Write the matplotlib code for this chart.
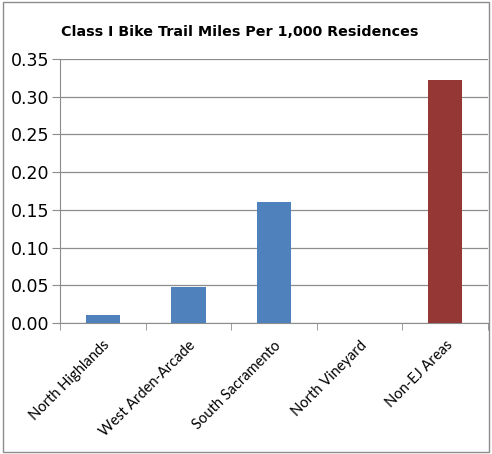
import matplotlib
matplotlib.use("Agg")
import matplotlib.pyplot as plt
from matplotlib.patches import Rectangle

categories = ["North Highlands", "West Arden-Arcade", "South Sacramento",
              "North Vineyard", "Non-EJ Areas"]
values = [0.010, 0.048, 0.161, 0.0, 0.322]
colors = ["#4f81bd", "#4f81bd", "#4f81bd", "#4f81bd", "#953735"]
yticks = [0.00, 0.05, 0.10, 0.15, 0.20, 0.25, 0.30, 0.35]

plt.rcParams["font.family"] = ["DejaVu Sans"]

W, H = 492, 454
fig = plt.figure(figsize=(W / 100, H / 100), dpi=100)
ax = fig.add_axes([60 / W, 1 - 323 / H, (488 - 60) / W, (323 - 59) / H])

x = list(range(len(categories)))
ax.bar(x, values, width=0.4, color=colors, zorder=3)
ax.set_xlim(-0.5, len(categories) - 0.5)
ax.set_ylim(0, 0.35)
ax.set_yticks(yticks)
ax.set_yticklabels([f"{v:.2f}" for v in yticks], fontsize=12.5)
ax.yaxis.grid(True, color="#8c8c8c", lw=0.9, zorder=0)
ax.tick_params(axis="y", length=6, color="#8c8c8c", pad=2)

# category labels, ticks at category boundaries
ax.set_xticks(x)
ax.set_xticklabels(categories, rotation=45, ha="right", rotation_mode="anchor",
                   fontsize=10.5, family="Lato")
ax.tick_params(axis="x", length=0, pad=11)
ax.set_xticks([i - 0.5 for i in range(len(categories) + 1)], minor=True)
ax.tick_params(axis="x", which="minor", length=5, color="#8c8c8c")

for s in ["top", "right"]:
    ax.spines[s].set_visible(False)
for s in ["left", "bottom"]:
    ax.spines[s].set_color("#8c8c8c")

fig.text(240 / W, 1 - 32 / H, "Class I Bike Trail Miles Per 1,000 Residences",
         ha="center", va="center", fontsize=10.3, fontweight="bold")

fig.add_artist(Rectangle((3 / W, 2 / H), (489 - 3) / W, (452 - 2) / H,
                         transform=fig.transFigure, fill=False,
                         edgecolor="#8c8c8c", lw=1))

fig.savefig("out.png", dpi=100, facecolor="white")
